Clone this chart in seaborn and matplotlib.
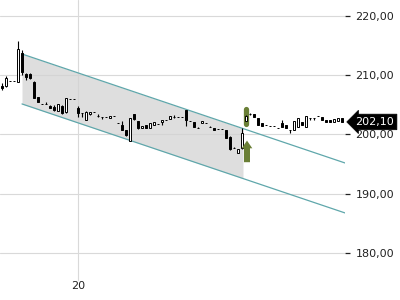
import numpy as np
import pandas as pd
import matplotlib
matplotlib.use("Agg")
import matplotlib.pyplot as plt
import matplotlib.transforms as mtransforms
from matplotlib.patches import FancyArrow
from matplotlib.ticker import FuncFormatter
import seaborn as sns

# ---------------- data ----------------
opens = [208.18, 208.18, 209.07, 209.07, 208.90, 213.75, 210.15, 210.25, 208.90, 206.37,
         205.14, 205.14, 204.80, 204.63, 203.95, 204.80, 203.73, 205.98, 205.98, 204.41,
         203.56, 202.43, 203.40, 203.83, 203.16, 202.89, 202.89, 202.77, 203.16, 201.88,
         201.59, 200.74, 198.89, 203.45, 202.26, 201.03, 201.59, 201.08, 201.59, 201.76,
         202.01, 202.43, 202.68, 203.02, 202.99, 202.99, 204.12, 202.26, 202.15, 201.03,
         201.88, 201.98, 201.20, 201.03, 200.86, 200.86, 200.74, 199.51, 197.65, 196.91,
         197.65, 202.26, 203.40, 203.45, 202.72, 201.88, 201.59, 201.47, 201.42, 201.03,
         201.88, 201.59, 200.74, 200.74, 201.20, 202.15, 201.20, 202.72, 202.72, 203.11,
         202.89, 202.43, 202.43, 202.09, 202.26, 202.72]
closes = [207.84, 209.53, 209.07, 209.07, 214.43, 210.54, 209.70, 209.53, 206.20, 205.52,
          205.14, 205.14, 204.46, 204.12, 205.14, 203.61, 206.10, 205.98, 205.98, 203.56,
          203.56, 203.83, 203.83, 203.83, 203.16, 202.89, 202.89, 203.16, 203.16, 201.88,
          200.74, 199.90, 202.72, 202.60, 201.03, 201.42, 201.13, 201.84, 202.01, 201.76,
          202.43, 202.43, 203.11, 203.02, 202.99, 202.99, 202.43, 202.26, 201.31, 201.03,
          202.26, 201.98, 201.20, 200.74, 200.86, 200.86, 199.44, 197.48, 197.65, 197.48,
          200.19, 203.11, 203.40, 202.99, 201.59, 201.47, 201.59, 201.47, 201.42, 201.03,
          201.20, 201.08, 200.74, 202.31, 202.72, 201.59, 203.11, 202.72, 202.72, 203.11,
          202.43, 202.09, 202.09, 202.55, 202.72, 202.10]
highs = [208.68, 209.86, 209.07, 209.07, 215.78, 214.26, 210.37, 210.37, 209.02, 206.37,
         205.14, 205.47, 204.97, 204.97, 205.14, 204.90, 206.15, 205.98, 205.98, 204.85,
         203.56, 203.90, 203.85, 203.83, 203.40, 202.89, 202.89, 203.16, 203.16, 201.88,
         202.26, 200.80, 202.80, 203.50, 202.30, 201.42, 201.59, 201.84, 202.01, 201.76,
         202.43, 202.43, 203.11, 203.30, 202.99, 202.99, 204.20, 202.26, 202.15, 201.30,
         202.26, 201.98, 201.40, 201.03, 200.86, 200.86, 200.74, 199.80, 197.90, 197.48,
         201.13, 203.20, 203.60, 203.45, 202.72, 201.88, 201.59, 201.47, 201.42, 201.03,
         202.43, 201.59, 200.80, 202.31, 202.72, 202.15, 203.11, 202.72, 202.72, 203.11,
         202.89, 202.43, 202.43, 202.55, 202.72, 202.72]
lows = [207.50, 208.01, 209.07, 209.07, 208.85, 210.03, 209.19, 209.36, 206.15, 205.47,
        205.14, 205.14, 204.41, 203.95, 203.95, 203.50, 203.61, 205.98, 205.98, 202.99,
        202.94, 202.40, 203.35, 203.83, 202.94, 202.60, 202.89, 202.77, 203.16, 201.88,
        200.70, 199.80, 198.80, 202.50, 200.90, 201.03, 201.13, 201.08, 201.59, 201.76,
        201.59, 202.43, 202.68, 202.80, 202.99, 202.99, 201.42, 202.26, 201.31, 201.03,
        201.88, 201.98, 201.20, 200.74, 200.86, 200.86, 199.44, 197.40, 197.65, 196.91,
        197.60, 202.20, 203.20, 202.99, 201.59, 201.47, 201.59, 201.47, 201.42, 201.03,
        201.20, 201.08, 200.24, 200.74, 201.20, 201.59, 201.20, 202.40, 202.40, 203.11,
        202.43, 202.09, 202.09, 202.09, 202.26, 202.10]

# regression channel (index, value)
channel_x = [5, 85.75]
channel_upper = [213.58, 195.17]
channel_lower = [205.14, 186.73]
channel_fill_end = 60.25

# signal markers
signal_idx = 61
signal_bar = [204.3, 201.7]
arrow_tail, arrow_tip = 195.3, 198.95

yticks = [180, 190, 200, 210, 220]
xtick_pos = [19]
xtick_labels = ["20"]
last_price = 202.10

# ---------------- style ----------------
sns.set_theme(style="white")
plt.rcParams['font.family'] = ['DejaVu Sans']

fig = plt.figure(figsize=(4, 3), dpi=100)
ax = fig.add_axes([0, 2 / 300, 345 / 400, 298 / 300])

idx = np.arange(len(opens))
o = np.array(opens); c = np.array(closes)
h = np.array(highs); l = np.array(lows)

# grid
for yv in yticks:
    ax.axhline(yv, color="#d9d9d9", lw=0.8, zorder=0)
for xv in xtick_pos:
    ax.axvline(xv, ymin=0.06, color="#d9d9d9", lw=0.8, zorder=0)

# channel fill and lines
fx = np.linspace(channel_x[0], channel_fill_end, 50)
fu = np.interp(fx, channel_x, channel_upper)
fl = np.interp(fx, channel_x, channel_lower)
ax.fill_between(fx, fl, fu, color="#d3d3d3", alpha=0.75, lw=0, zorder=0.5)

df_ch = pd.DataFrame({"x": channel_x * 2,
                      "y": channel_upper + channel_lower,
                      "line": ["upper"] * 2 + ["lower"] * 2})
sns.lineplot(data=df_ch, x="x", y="y", units="line", estimator=None,
             color="#5fa7ab", lw=0.9, ax=ax, zorder=1)

# candles
ax.vlines(idx, l, h, color="black", lw=0.8, zorder=2)
face = np.where(c >= o, "white", "black")
ax.bar(idx, c - o, bottom=o, width=0.7, color=face, edgecolor="black",
       linewidth=0.7, zorder=3)

# signals
green = "#6a7f36"
ax.plot([signal_idx, signal_idx], signal_bar, color=green, lw=3.8,
        solid_capstyle="round", zorder=1.5)
ax.add_patch(FancyArrow(signal_idx + 0.25, arrow_tail, 0, arrow_tip - arrow_tail,
                        width=1.5, head_width=2.65, head_length=1.3,
                        length_includes_head=True, color=green, lw=0, zorder=4))

# axes
ax.set_xlim(-0.5, 85.75)
ax.set_ylim(172.36, 222.7)
for s in ax.spines.values():
    s.set_visible(False)
ax.yaxis.tick_right()
ax.set_yticks(yticks)
ax.yaxis.set_major_formatter(FuncFormatter(lambda v, p: f"{v:.2f}".replace(".", ",")))
ax.tick_params(axis="y", direction="out", length=3.6, width=0.9, pad=4,
               labelsize=8, colors="#222222")
ax.set_xticks(xtick_pos)
ax.set_xticklabels(xtick_labels)
ax.tick_params(axis="x", direction="in", length=3.5, width=0.9, pad=-12.5,
               labelsize=8, colors="#222222")
ax.set_xlabel(""); ax.set_ylabel("")
ax.grid(False)

# last price label
trans = mtransforms.blended_transform_factory(ax.transAxes, ax.transData)
ax.text(1.03, last_price, f"{last_price:.2f}".replace(".", ","), transform=trans,
        color="white", fontsize=8, va="center", ha="left", clip_on=False, zorder=10,
        bbox=dict(boxstyle="larrow,pad=0.25", fc="black", ec="black", lw=0.5))

fig.savefig("out.png", dpi=100)
